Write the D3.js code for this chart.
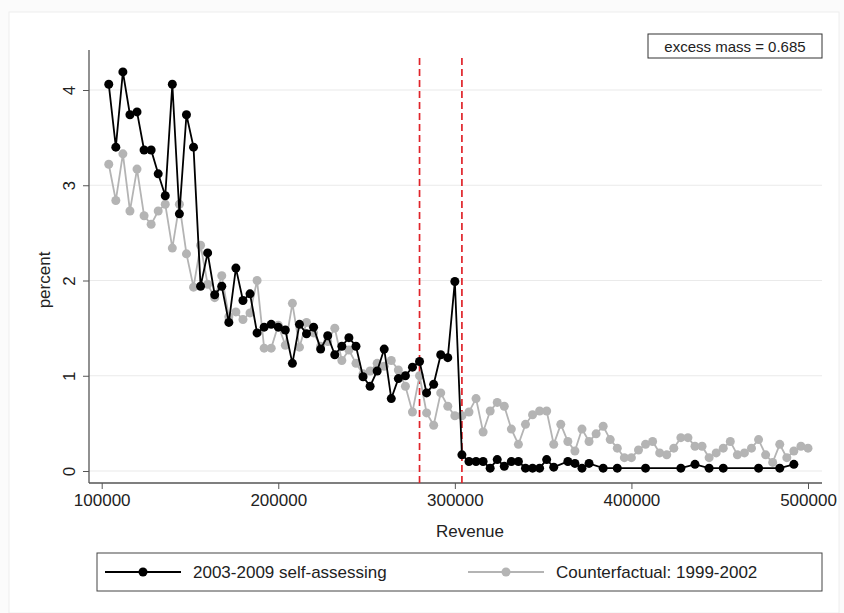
<!DOCTYPE html>
<html>
<head>
<meta charset="utf-8">
<script src="https://cdn.jsdelivr.net/npm/d3@7"></script>
<style>
body { margin: 0; background: #fff; }
text { font-family: "Liberation Sans", Arial, sans-serif; fill: #222; }
</style>
</head>
<body>
<script>
// Global variable
const w = 844;
const h = 613;

// revenue bins: 104000, 108000, ... 500000
const bins = d3.range(104000, 500001, 4000);

// 2003-2009 self-assessing (null = no point)
const selfAssessing = [
  4.06, 3.40, 4.19, 3.74, 3.77, 3.37, 3.37, 3.12, 2.89, 4.06,
  2.70, 3.74, 3.40, 1.94, 2.29, 1.85, 1.94, 1.56, 2.13, 1.79,
  1.86, 1.45, 1.51, 1.54, 1.51, 1.48, 1.13, 1.54, 1.44, 1.51,
  1.28, 1.42, 1.22, 1.31, 1.40, 1.31, 0.99, 0.89, 1.05, 1.28,
  0.76, 0.97, 1.00, 1.09, 1.15, 0.82, 0.91, 1.22, 1.19, 1.99,
  0.17, 0.10, 0.10, 0.10, 0.03, 0.12, 0.05, 0.10, 0.10, 0.03,
  0.03, 0.03, 0.12, 0.04, null, 0.10, 0.08, 0.03, 0.08, null,
  0.03, null, 0.03, null, null, null, 0.03, null, null, null,
  null, 0.03, null, 0.07, null, 0.03, null, 0.03, null, null,
  null, null, 0.03, null, null, 0.03, null, 0.07, null, null
];

// Counterfactual: 1999-2002
const counterfactual = [
  3.22, 2.84, 3.33, 2.73, 3.17, 2.68, 2.59, 2.73, 2.80, 2.34,
  2.80, 2.28, 1.93, 2.37, 1.96, 1.82, 2.05, 1.62, 1.67, 1.59,
  1.66, 2.00, 1.29, 1.29, 1.53, 1.32, 1.76, 1.30, 1.56, 1.45,
  1.31, 1.36, 1.50, 1.16, 1.27, 1.13, 1.02, 1.05, 1.13, 1.10,
  1.16, 1.06, 0.89, 0.62, 1.00, 0.61, 0.48, 0.82, 0.68, 0.58,
  0.58, 0.62, 0.76, 0.41, 0.63, 0.72, 0.68, 0.44, 0.28, 0.49,
  0.59, 0.63, 0.63, 0.28, 0.49, 0.31, 0.21, 0.44, 0.31, 0.39,
  0.47, 0.33, 0.24, 0.14, 0.14, 0.22, 0.28, 0.31, 0.19, 0.17,
  0.24, 0.35, 0.35, 0.26, 0.26, 0.14, 0.19, 0.24, 0.31, 0.17,
  0.19, 0.24, 0.33, 0.17, 0.09, 0.28, 0.14, 0.21, 0.26, 0.24
];

const xTicks = [100000, 200000, 300000, 400000, 500000];
const yTicks = [0, 1, 2, 3, 4];
const cutoffs = [280000, 304000];
const excessMass = "excess mass = 0.685";
const seriesNames = ["2003-2009 self-assessing", "Counterfactual: 1999-2002"];

//Create SVG element
let svg = d3.select("body")
            .append("svg")
                .attr("width", w)
                .attr("height", h);

// outer frame
svg.append("rect").attr("x", 0).attr("y", 0).attr("width", w).attr("height", h).attr("fill", "#fbfbfb");
svg.append("rect").attr("x", 9).attr("y", 12).attr("width", 830).attr("height", 601)
    .attr("fill", "#fff").attr("stroke", "#eee");

const x = d3.scaleLinear().domain([100000, 500000]).range([101.7, 808]);
const y = d3.scaleLinear().domain([0, 4]).range([471, 90]);

const left = 89, right = 822, bottom = 483;

// gridlines
svg.selectAll(".grid").data(yTicks).enter().append("line")
    .attr("x1", left).attr("x2", right)
    .attr("y1", d => y(d)).attr("y2", d => y(d))
    .attr("stroke", "#eaeaea").attr("stroke-width", 1.2);

// axes
svg.append("g")
    .attr("transform", "translate(0," + bottom + ")")
    .call(d3.axisBottom(x).tickValues(xTicks).tickFormat(d3.format("d")).tickSize(6).tickPadding(5))
    .call(g => g.select(".domain").attr("d", "M" + left + ",0H" + right).attr("stroke", "#555").attr("stroke-width", 1.3))
    .call(g => g.selectAll("line").attr("stroke", "#555"))
    .call(g => g.selectAll("text").attr("font-size", 17).attr("fill", "#222"));

svg.append("g")
    .attr("transform", "translate(" + left + ",0)")
    .call(d3.axisLeft(y).tickValues(yTicks).tickFormat(d3.format("d")).tickSize(6))
    .call(g => g.select(".domain").attr("d", "M0," + (y(4) - 40) + "V" + bottom).attr("stroke", "#555").attr("stroke-width", 1.3))
    .call(g => g.selectAll("line").attr("stroke", "#555"))
    .call(g => g.selectAll("text")
        .attr("font-size", 17).attr("fill", "#222")
        .attr("text-anchor", "middle").attr("x", 0).attr("y", 0).attr("dy", 0)
        .attr("transform", "translate(-14,0) rotate(-90)"));

svg.append("text").attr("x", 470).attr("y", 537).attr("text-anchor", "middle")
    .attr("font-size", 17).text("Revenue");
svg.append("text").attr("transform", "translate(50,280) rotate(-90)").attr("text-anchor", "middle")
    .attr("font-size", 17).text("percent");

// cutoff lines
svg.selectAll(".cut").data(cutoffs).enter().append("line")
    .attr("x1", d => x(d)).attr("x2", d => x(d))
    .attr("y1", 58).attr("y2", bottom)
    .attr("stroke", "#e0242a").attr("stroke-width", 1.7).attr("stroke-dasharray", "7,4");

// series
function drawSeries(values, color, r) {
    const pts = bins.map((b, i) => ({ x: b, y: values[i] })).filter(d => d.y != null);
    svg.append("path").datum(pts)
        .attr("fill", "none").attr("stroke", color).attr("stroke-width", 1.8)
        .attr("d", d3.line().x(d => x(d.x)).y(d => y(d.y)));
    svg.selectAll(null).data(pts).enter().append("circle")
        .attr("cx", d => x(d.x)).attr("cy", d => y(d.y)).attr("r", r).attr("fill", color);
}
drawSeries(counterfactual, "#b4b4b4", 4.5);
drawSeries(selfAssessing, "#000", 4.5);

// excess mass box
svg.append("rect").attr("x", 648).attr("y", 34).attr("width", 174).attr("height", 24)
    .attr("fill", "#fff").attr("stroke", "#333");
svg.append("text").attr("x", 735).attr("y", 51.5).attr("text-anchor", "middle")
    .attr("font-size", 15).text(excessMass);

// legend
svg.append("rect").attr("x", 97).attr("y", 553).attr("width", 725).attr("height", 38)
    .attr("fill", "#fff").attr("stroke", "#444");
const legend = [
    { name: seriesNames[0], color: "#000", x0: 105 },
    { name: seriesNames[1], color: "#b4b4b4", x0: 468 }
];
legend.forEach(l => {
    svg.append("line").attr("x1", l.x0).attr("x2", l.x0 + 76).attr("y1", 572).attr("y2", 572)
        .attr("stroke", l.color).attr("stroke-width", 1.8);
    svg.append("circle").attr("cx", l.x0 + 38).attr("cy", 572).attr("r", 4.5).attr("fill", l.color);
    svg.append("text").attr("x", l.x0 + 88).attr("y", 578).attr("font-size", 17).text(l.name);
});
</script>
</body>
</html>
